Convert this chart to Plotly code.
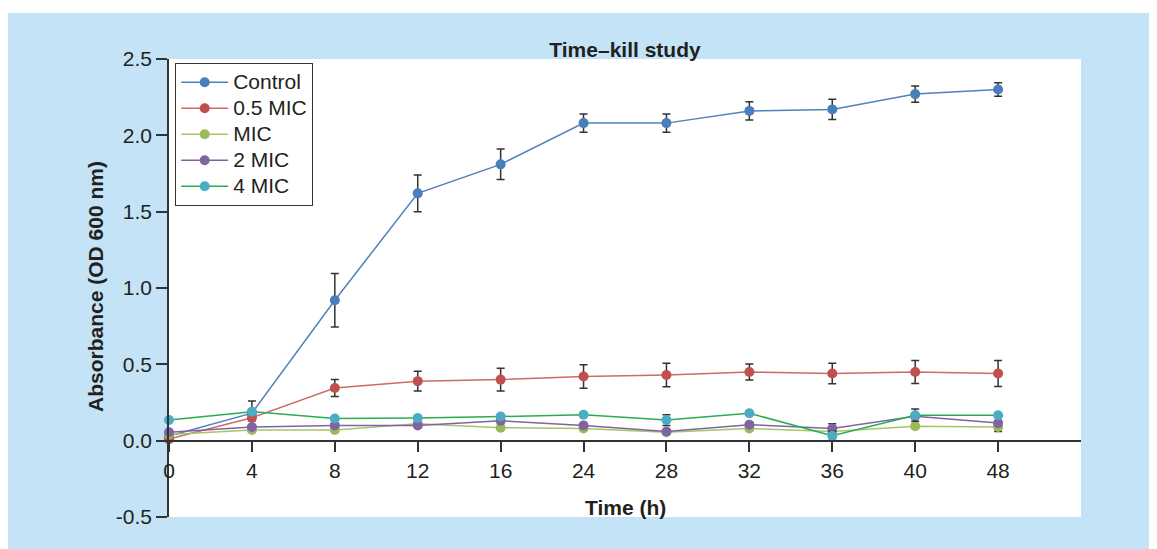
import plotly.graph_objects as go

time_labels = ["0", "4", "8", "12", "16", "24", "28", "32", "36", "40", "48"]

y_tick_vals = [-0.5, 0.0, 0.5, 1.0, 1.5, 2.0, 2.5]
y_tick_text = ["-0.5", "0.0", "0.5", "1.0", "1.5", "2.0", "2.5"]

control = [0.03, 0.18, 0.92, 1.62, 1.81, 2.08, 2.08, 2.16, 2.17, 2.27, 2.30]
control_err = [0.01, 0.08, 0.175, 0.12, 0.10, 0.06, 0.06, 0.06, 0.066, 0.053, 0.044]

mic05 = [0.01, 0.15, 0.345, 0.39, 0.40, 0.42, 0.43, 0.45, 0.44, 0.45, 0.44]
mic05_err = [0.01, 0.02, 0.055, 0.065, 0.075, 0.077, 0.077, 0.053, 0.067, 0.075, 0.085]

mic1 = [0.04, 0.07, 0.07, 0.11, 0.085, 0.08, 0.055, 0.08, 0.06, 0.095, 0.09]
mic1_err = [0.01, 0.01, 0.01, 0.01, 0.01, 0.01, 0.01, 0.01, 0.01, 0.01, 0.03]

mic2 = [0.055, 0.09, 0.10, 0.10, 0.13, 0.10, 0.06, 0.105, 0.08, 0.16, 0.115]
mic2_err = [0.01, 0.01, 0.01, 0.01, 0.01, 0.01, 0.01, 0.01, 0.03, 0.01, 0.01]

mic4 = [0.135, 0.19, 0.145, 0.148, 0.158, 0.17, 0.135, 0.18, 0.032, 0.167, 0.167]
mic4_err = [0.01, 0.01, 0.01, 0.01, 0.01, 0.01, 0.035, 0.01, 0.03, 0.04, 0.01]

series = [
    ("Control", control, control_err, "#4f81bd", "#4a7ebb"),
    ("0.5 MIC", mic05, mic05_err, "#cf6a67", "#c0504d"),
    ("MIC", mic1, mic1_err, "#a6c56a", "#9bbb59"),
    ("2 MIC", mic2, mic2_err, "#8064a2", "#8064a2"),
    ("4 MIC", mic4, mic4_err, "#27ae4f", "#4bacc6"),
]

FONT = "Liberation Sans, Arial, Helvetica, sans-serif"
FS = 21
fig = go.Figure()
for name, vals, errs, lc, mc in series:
    fig.add_trace(go.Scatter(
        x=time_labels, y=vals,
        name=f'<span style="font-size:{FS}px">{name}</span>',
        mode="lines+markers",
        line=dict(color=lc, width=1.5),
        marker=dict(color=mc, size=10),
        error_y=dict(type="data", array=errs, visible=True, color="#333333",
                     thickness=1.5, width=4),
        cliponaxis=False,
    ))

# page body has an 8px margin; coordinates below are screen pixels
OFF = 8
W, H = 1157, 549
L, R, T, B = 169 - OFF, 1157 - (1081 - OFF), 59 - OFF, 549 - (517 - OFF)
pw, ph = W - L - R, H - T - B

def px(x):
    return (x - OFF - L) / pw

def py(y):
    return (H - B - (y - OFF)) / ph

fig.update_layout(
    width=W, height=H,
    margin=dict(l=L, r=R, t=T, b=B, autoexpand=False),
    paper_bgcolor="#c4e3f6",
    plot_bgcolor="white",
    font=dict(family=FONT, size=FS, color="#231f20"),
    title=dict(text="<b>Time–kill study</b>", x=0.5, xref="paper",
               xanchor="center", y=1 - (50 - OFF) / H, yanchor="middle",
               font=dict(size=FS, color="#231f20")),
    showlegend=True,
    legend=dict(x=px(175), y=py(63), xanchor="left", yanchor="top",
                bgcolor="white", bordercolor="#333333", borderwidth=1.2,
                font=dict(size=17.7), tracegroupgap=0, itemwidth=47),
    xaxis=dict(type="category", range=[0, 11], anchor="free", position=1 / 6,
               showline=True, linecolor="#333333", linewidth=1.5,
               ticks="outside", ticklen=11, tickwidth=1.5, tickcolor="#333333",
               showgrid=False, zeroline=False, tickfont=dict(size=FS)),
    yaxis=dict(range=[-0.5, 2.5], tickmode="array", tickvals=y_tick_vals,
               ticktext=y_tick_text,
               showline=True, linecolor="#333333", linewidth=1.5,
               ticks="outside", ticklen=11, tickwidth=1.5, tickcolor="#333333",
               showgrid=False, zeroline=False, tickfont=dict(size=FS)),
    shapes=[
        dict(type="rect", xref="paper", yref="paper", x0=px(0), x1=px(W + 20),
             y0=py(13), y1=py(-5), fillcolor="white", line=dict(width=0), layer="below"),
    ],
    annotations=[
        dict(text="<b>Time (h)</b>", xref="paper", yref="paper", x=px(625), y=py(507),
             xanchor="center", yanchor="middle", showarrow=False, font=dict(size=FS)),
        dict(text="<b>Absorbance (OD 600 nm)</b>", xref="paper", yref="paper",
             x=px(95), y=py(287), xanchor="center", yanchor="middle",
             textangle=-90, showarrow=False, font=dict(size=FS)),
    ],
)

fig.write_html("out.html")
